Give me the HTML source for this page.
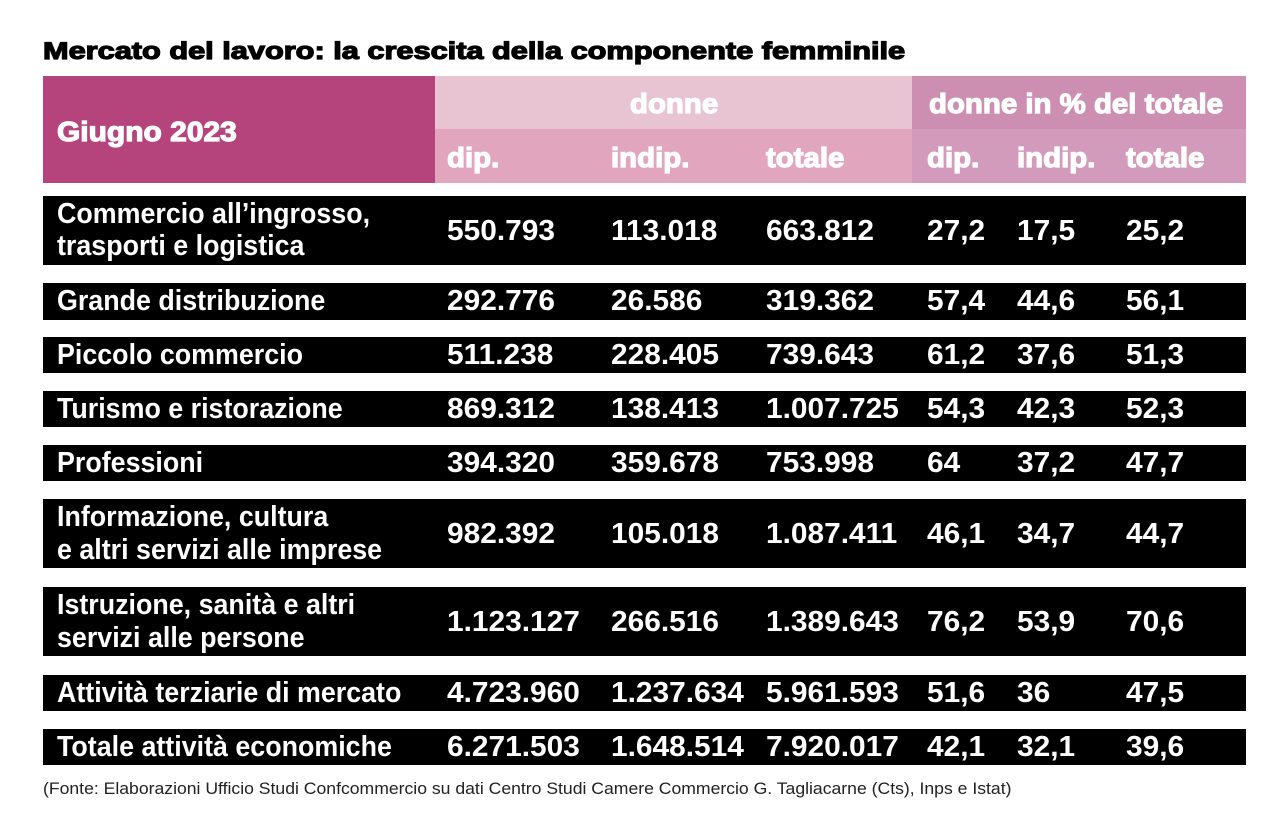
<!DOCTYPE html>
<html><head><meta charset="utf-8"><style>
body{margin:0;width:1286px;height:822px;background:#fff;position:relative;overflow:hidden;font-family:"Liberation Sans",sans-serif;}
.a{position:absolute;white-space:nowrap;transform-origin:0 50%;}
.t{font-weight:bold;color:#fff;font-size:29px;line-height:30px;transform:scaleX(0.925);}
.n{font-weight:bold;color:#fff;font-size:29px;line-height:30px;transform:scaleX(1.03);}
.h{font-weight:900;color:#fff;font-size:28px;line-height:30px;transform:scaleX(1.05);-webkit-text-stroke:1.2px #fff;}
.bar{position:absolute;left:43px;width:1203px;background:#000;}
</style></head><body>
<div class="a" style="left:43px;top:38px;font-size:24px;font-weight:900;-webkit-text-stroke:1.2px #000;transform:scaleX(1.28);line-height:28px">Mercato del lavoro: la crescita della componente femminile</div>
<div style="position:absolute;left:43px;top:76px;width:392px;height:107px;background:#b5437c"></div>
<div style="position:absolute;left:435px;top:76px;width:477px;height:53px;background:#e8c3d2"></div>
<div style="position:absolute;left:435px;top:129px;width:477px;height:54px;background:#e1a6bd"></div>
<div style="position:absolute;left:912px;top:76px;width:334px;height:53px;background:#cd8fb1"></div>
<div style="position:absolute;left:912px;top:129px;width:334px;height:54px;background:#d39bbb"></div>
<div class="a h" style="left:57px;top:117px;transform:scaleX(1.07)">Giugno 2023</div>
<div class="a h" style="left:630px;top:89px">donne</div>
<div class="a h" style="left:929px;top:89px">donne in % del totale</div>
<div class="a h" style="left:447px;top:143px">dip.</div>
<div class="a h" style="left:611px;top:143px">indip.</div>
<div class="a h" style="left:766px;top:143px">totale</div>
<div class="a h" style="left:927px;top:143px">dip.</div>
<div class="a h" style="left:1017px;top:143px">indip.</div>
<div class="a h" style="left:1126px;top:143px">totale</div>

<div class="bar" style="top:196px;height:69px"></div>
<div class="bar" style="top:283px;height:37px"></div>
<div class="bar" style="top:337px;height:36px"></div>
<div class="bar" style="top:391px;height:36px"></div>
<div class="bar" style="top:445px;height:36px"></div>
<div class="bar" style="top:499px;height:69px"></div>
<div class="bar" style="top:587px;height:69px"></div>
<div class="bar" style="top:675px;height:36px"></div>
<div class="bar" style="top:729px;height:36px"></div>

<div class="a t" style="left:57px;top:199px">Commercio all’ingrosso,</div>
<div class="a t" style="left:57px;top:231px">trasporti e logistica</div>
<div class="a t" style="left:57px;top:286px">Grande distribuzione</div>
<div class="a t" style="left:57px;top:340px">Piccolo commercio</div>
<div class="a t" style="left:57px;top:394px">Turismo e ristorazione</div>
<div class="a t" style="left:57px;top:448px">Professioni</div>
<div class="a t" style="left:57px;top:502px">Informazione, cultura</div>
<div class="a t" style="left:57px;top:535px">e altri servizi alle imprese</div>
<div class="a t" style="left:57px;top:590px">Istruzione, sanità e altri</div>
<div class="a t" style="left:57px;top:623px">servizi alle persone</div>
<div class="a t" style="left:57px;top:678px">Attività terziarie di mercato</div>
<div class="a t" style="left:57px;top:732px">Totale attività economiche</div>

<div class="a n" style="left:447px;top:216px">550.793</div><div class="a n" style="left:611px;top:216px">113.018</div><div class="a n" style="left:766px;top:216px">663.812</div><div class="a n" style="left:927px;top:216px">27,2</div><div class="a n" style="left:1017px;top:216px">17,5</div><div class="a n" style="left:1126px;top:216px">25,2</div>
<div class="a n" style="left:447px;top:286px">292.776</div><div class="a n" style="left:611px;top:286px">26.586</div><div class="a n" style="left:766px;top:286px">319.362</div><div class="a n" style="left:927px;top:286px">57,4</div><div class="a n" style="left:1017px;top:286px">44,6</div><div class="a n" style="left:1126px;top:286px">56,1</div>
<div class="a n" style="left:447px;top:340px">511.238</div><div class="a n" style="left:611px;top:340px">228.405</div><div class="a n" style="left:766px;top:340px">739.643</div><div class="a n" style="left:927px;top:340px">61,2</div><div class="a n" style="left:1017px;top:340px">37,6</div><div class="a n" style="left:1126px;top:340px">51,3</div>
<div class="a n" style="left:447px;top:394px">869.312</div><div class="a n" style="left:611px;top:394px">138.413</div><div class="a n" style="left:766px;top:394px">1.007.725</div><div class="a n" style="left:927px;top:394px">54,3</div><div class="a n" style="left:1017px;top:394px">42,3</div><div class="a n" style="left:1126px;top:394px">52,3</div>
<div class="a n" style="left:447px;top:448px">394.320</div><div class="a n" style="left:611px;top:448px">359.678</div><div class="a n" style="left:766px;top:448px">753.998</div><div class="a n" style="left:927px;top:448px">64</div><div class="a n" style="left:1017px;top:448px">37,2</div><div class="a n" style="left:1126px;top:448px">47,7</div>
<div class="a n" style="left:447px;top:519px">982.392</div><div class="a n" style="left:611px;top:519px">105.018</div><div class="a n" style="left:766px;top:519px">1.087.411</div><div class="a n" style="left:927px;top:519px">46,1</div><div class="a n" style="left:1017px;top:519px">34,7</div><div class="a n" style="left:1126px;top:519px">44,7</div>
<div class="a n" style="left:447px;top:607px">1.123.127</div><div class="a n" style="left:611px;top:607px">266.516</div><div class="a n" style="left:766px;top:607px">1.389.643</div><div class="a n" style="left:927px;top:607px">76,2</div><div class="a n" style="left:1017px;top:607px">53,9</div><div class="a n" style="left:1126px;top:607px">70,6</div>
<div class="a n" style="left:447px;top:678px">4.723.960</div><div class="a n" style="left:611px;top:678px">1.237.634</div><div class="a n" style="left:766px;top:678px">5.961.593</div><div class="a n" style="left:927px;top:678px">51,6</div><div class="a n" style="left:1017px;top:678px">36</div><div class="a n" style="left:1126px;top:678px">47,5</div>
<div class="a n" style="left:447px;top:732px">6.271.503</div><div class="a n" style="left:611px;top:732px">1.648.514</div><div class="a n" style="left:766px;top:732px">7.920.017</div><div class="a n" style="left:927px;top:732px">42,1</div><div class="a n" style="left:1017px;top:732px">32,1</div><div class="a n" style="left:1126px;top:732px">39,6</div>

<div class="a" style="left:43px;top:779px;font-size:17px;line-height:20px;color:#222;transform:scaleX(1.035)">(Fonte: Elaborazioni Ufficio Studi Confcommercio su dati Centro Studi Camere Commercio G. Tagliacarne (Cts), Inps e Istat)</div>
</body></html>
